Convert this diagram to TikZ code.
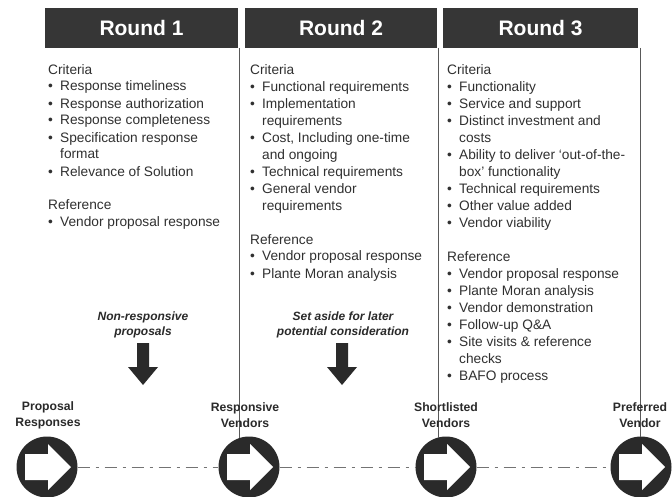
\documentclass[tikz,border=0pt]{standalone}
\usepackage{fontspec}
\setmainfont{Liberation Sans}
\usetikzlibrary{calc}
\definecolor{barfill}{HTML}{363636}
\definecolor{ink}{HTML}{2A2A2A}
\definecolor{txt}{HTML}{303030}
\newcommand\bi{\makebox[12pt][l]{•}}
\newcommand\ci{\hspace*{12pt}}
\begin{document}
\begin{tikzpicture}[x=1pt,y=-1pt,
  bar/.style={fill=barfill, text=white, minimum height=40pt, inner sep=0pt,
    font=\fontsize{21}{24}\selectfont\bfseries},
  col/.style={anchor=base west, align=left, inner sep=0pt, text=txt,
    font=\fontsize{13.7}{17}\selectfont},
  circ/.style={circle, fill=ink, minimum size=61pt, inner sep=0pt},
  clabel/.style={align=center, inner sep=0pt, text=ink,
    font=\fontsize{12.2}{16}\selectfont\bfseries},
  alabel/.style={align=center, inner sep=0pt, text=ink,
    font=\fontsize{12}{15}\selectfont\bfseries\itshape},
  sep/.style={draw=black!65, line width=0.8pt},
  conn/.style={draw=black!55, line width=0.8pt, dash pattern=on 12pt off 6pt on 3pt off 6pt}
]
\useasboundingbox (0,0) rectangle (672,497);
\fill[white] (0,0) rectangle (672,497);

% header bars
\node[bar, minimum width=193pt] (h1) at (141.5,28) {Round 1};
\node[bar, minimum width=192pt] (h2) at (341,28) {Round 2};
\node[bar, minimum width=195pt] (h3) at (540.5,28) {Round 3};

% circles
\node[circ] (c1) at (47,467) {};
\node[circ] (c2) at (249,467) {};
\node[circ] (c3) at (446,467) {};
\node[circ] (c4) at (641,467) {};

% separators
\coordinate (s1t) at (239,48);
\coordinate (s1b) at (239,438);
\coordinate (s2t) at (438,48);
\coordinate (s2b) at (438,438);
\coordinate (s3t) at (640,48);
\coordinate (s3b) at (640,437);
\draw[sep] (s1t) -- (s1b);
\draw[sep] (s2t) -- (s2b);
\draw[sep] (s3t) -- (s3b);

% connectors
\draw[conn] (c1) -- (c2);
\draw[conn] (c2) -- (c3);
\draw[conn] (c3) -- (c4);

% arrows inside circles
\foreach \c in {c1,c2,c3,c4}
  \fill[white, shift={(\c)}] (-22,-13) -- (1,-13) -- (1,-23) -- (24,0) -- (1,23) -- (1,13) -- (-22,13) -- cycle;

% column texts (anchored at the baseline of the last line)
\node[col] (t1) at (48,227) {Criteria\\
\bi Response timeliness\\
\bi Response authorization\\
\bi Response completeness\\
\bi Specification response\\
\ci format\\
\bi Relevance of Solution\\
\mbox{}\\
Reference\\
\bi Vendor proposal response};

\node[col] (t2) at (250,278) {Criteria\\
\bi Functional requirements\\
\bi Implementation\\
\ci requirements\\
\bi Cost, Including one-time\\
\ci and ongoing\\
\bi Technical requirements\\
\bi General vendor\\
\ci requirements\\
\mbox{}\\
Reference\\
\bi Vendor proposal response\\
\bi Plante Moran analysis};

\node[col] (t3) at (447,380) {Criteria\\
\bi Functionality\\
\bi Service and support\\
\bi Distinct investment and\\
\ci costs\\
\bi Ability to deliver ‘out-of-the-\\
\ci box’ functionality\\
\bi Technical requirements\\
\bi Other value added\\
\bi Vendor viability\\
\mbox{}\\
Reference\\
\bi Vendor proposal response\\
\bi Plante Moran analysis\\
\bi Vendor demonstration\\
\bi Follow-up Q\&A\\
\bi Site visits \& reference\\
\ci checks\\
\bi BAFO process};

% down arrows with labels
\node[alabel] (a1) at (143,324.5) {Non-responsive\\proposals};
\node[alabel] (a2) at (343,324.5) {Set aside for later\\potential consideration};
\coordinate (d1) at (143,343);
\coordinate (d2) at (342,343);
\foreach \d in {d1,d2}
  \fill[ink, shift={(\d)}] (-6,0) -- (6,0) -- (6,24) -- (15,24) -- (0,42) -- (-15,24) -- (-6,24) -- cycle;

% circle labels
\node[clabel] (l1) at (48,415) {Proposal\\Responses};
\node[clabel] (l2) at (245,415) {Responsive\\Vendors};
\node[clabel] (l3) at (446,415) {Shortlisted\\Vendors};
\node[clabel] (l4) at (640,415) {Preferred\\Vendor};
\end{tikzpicture}
\end{document}
